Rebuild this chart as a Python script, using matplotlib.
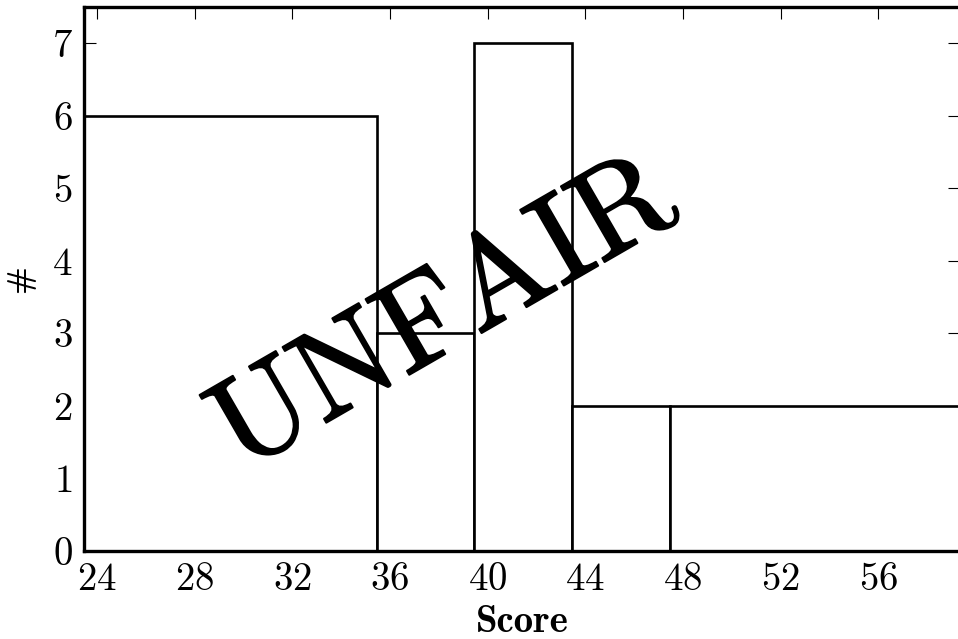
import matplotlib
matplotlib.use("Agg")
import matplotlib.pyplot as plt
import matplotlib.patheffects as pe

# histogram: unequal bins
bin_edges = [23.45, 35.45, 39.45, 43.45, 47.45, 59.35]
counts = [6, 3, 7, 2, 2]
x_ticks = [24, 28, 32, 36, 40, 44, 48, 52, 56]
y_ticks = [0, 1, 2, 3, 4, 5, 6, 7]

plt.rcParams["font.family"] = ["cmr10", "DejaVu Serif"]
plt.rcParams["axes.unicode_minus"] = False
plt.rcParams["axes.formatter.use_mathtext"] = True

fig = plt.figure(figsize=(9.58, 6.39), dpi=100)
ax = fig.add_axes([0.0873, 0.1377, 0.9148, 0.8513])

widths = [bin_edges[i + 1] - bin_edges[i] for i in range(len(counts))]
ax.bar(bin_edges[:-1], counts, width=widths, align="edge",
       facecolor="white", edgecolor="black", linewidth=1.9, zorder=2)

ax.set_xlim(bin_edges[0], bin_edges[-1])
ax.set_ylim(0, 7.5)
ax.set_xticks(x_ticks)
ax.set_yticks(y_ticks)

for side in ax.spines.values():
    side.set_linewidth(2.4)
    side.set_zorder(3)

ax.tick_params(direction="in", length=8.5, width=0.8, labelsize=28, pad=8,
               top=True, right=True)

ax.set_xlabel("Score", fontsize=28, fontfamily="cmb10", labelpad=5)
ax.set_ylabel("#", fontsize=24, fontfamily="cmb10", labelpad=12)

ax.text(38.26, 3.22, "UNFAIR", fontsize=92, rotation=30,
        ha="center", va="center", color="black", zorder=4,
        path_effects=[pe.withStroke(linewidth=1.5, foreground="black")])

fig.savefig("out.png", dpi=100)
